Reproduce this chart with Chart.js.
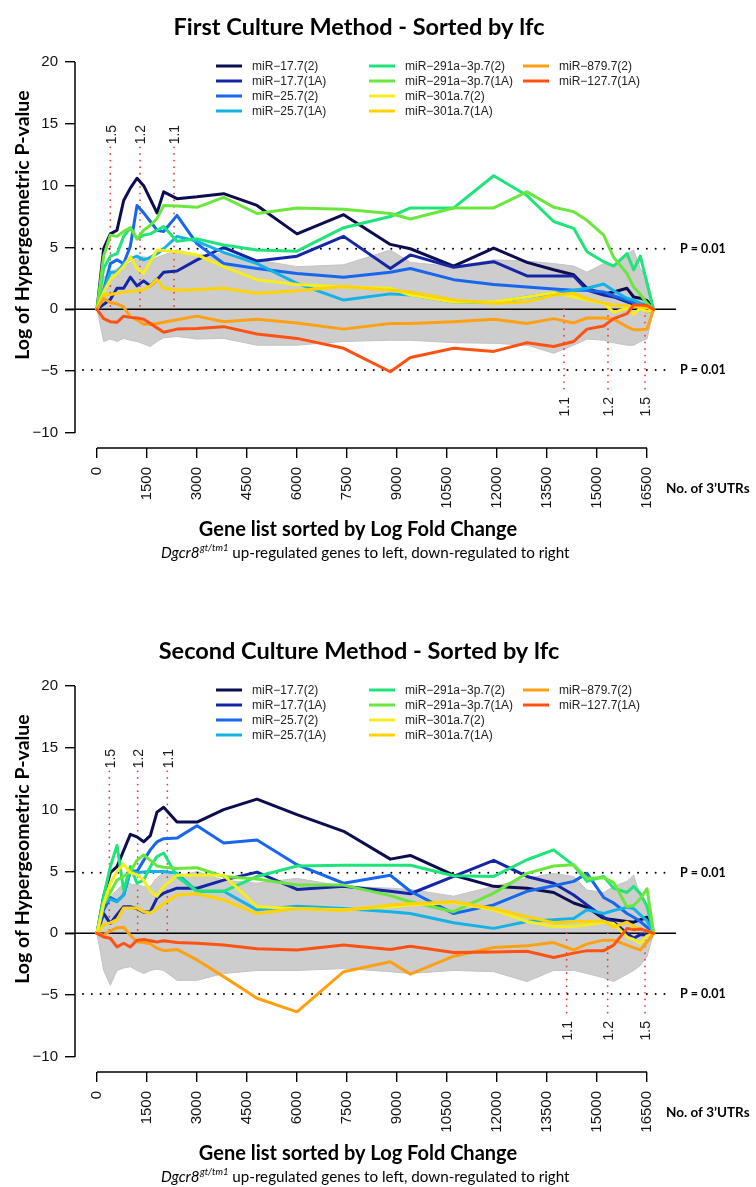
<!DOCTYPE html>
<html>
<head>
<meta charset="utf-8">
<script src="https://cdn.jsdelivr.net/npm/chart.js@4.4.1/dist/chart.umd.min.js"></script>
<style>
  html, body { margin: 0; padding: 0; background: #fff; overflow: hidden; }
  .panel { position: absolute; left: 0; width: 756px; height: 625px; }
</style>
</head>
<body>
<div class="panel" style="top:0"><canvas id="cult1" width="756" height="625"></canvas></div>
<div class="panel" style="top:624px"><canvas id="cult2" width="756" height="625"></canvas></div>
<script>
"use strict";

// number of 3'UTRs (gene list position) where the curves were read
var geneCounts = [0, 200, 400, 600, 800, 1000, 1200, 1400, 1600, 1800, 2000, 2400, 3000, 3800, 4800, 6000,
    7400, 8800, 9400, 10700, 11900, 12900, 13700, 14300, 14700, 15200, 15500, 15900, 16100, 16300, 16500, 16700];
var xTickValues = [0, 1500, 3000, 4500, 6000, 7500, 9000, 10500, 12000, 13500, 15000, 16500];
var yTickValues = [-10, -5, 0, 5, 10, 15, 20];

var mirNames = ["miR\u221217.7(2)", "miR\u221217.7(1A)", "miR\u221225.7(2)", "miR\u221225.7(1A)",
    "miR\u2212291a\u22123p.7(2)", "miR\u2212291a\u22123p.7(1A)", "miR\u2212301a.7(2)", "miR\u2212301a.7(1A)",
    "miR\u2212879.7(2)", "miR\u2212127.7(1A)"];
var mirColors = ["#0c0c50", "#1426a6", "#1666ee", "#14b2e6", "#1ee47a", "#6ae63c", "#f4ee1c", "#ffd200",
    "#ffa012", "#ff5212"];

var pCutoff = 4.9;
var foldLabelsUp = ["1.5", "1.2", "1.1"];
var foldLabelsDown = ["1.1", "1.2", "1.5"];

// first culture method
var c1Mir17_2 = [0, 4.9, 6.1, 6.4, 8.8, 9.8, 10.6, 10.0, 8.9, 7.8, 9.5, 8.95, 9.1, 9.35, 8.4, 6.1, 7.65, 5.25, 4.9, 3.5, 4.95, 3.8, 3.2, 2.8, 1.7, 1.25, 1.4, 1.7, 1.0, 0.9, 0.7, 0];
var c1Mir17_1A = [0, 0.4, 0.8, 1.7, 1.7, 2.6, 1.9, 2.3, 1.9, 2.4, 3.0, 3.1, 4.0, 5.0, 3.9, 4.3, 5.9, 3.3, 4.4, 3.4, 3.85, 2.7, 2.7, 2.7, 1.55, 1.15, 1.0, 0.6, 0.4, 0.2, -0.2, 0];
var c1Mir25_2 = [0, 1.5, 3.7, 4.0, 3.7, 5.1, 8.4, 7.8, 7.1, 6.4, 6.3, 7.6, 5.3, 3.7, 3.3, 2.9, 2.6, 3.0, 3.3, 2.4, 2.0, 1.8, 1.65, 1.55, 1.55, 1.4, 1.1, 0.75, 0.55, 0.4, 0.2, 0];
var c1Mir25_1A = [0, 1.5, 3.0, 3.0, 3.7, 4.1, 4.3, 4.0, 4.2, 4.5, 4.9, 5.9, 5.5, 4.6, 3.7, 2.1, 0.75, 1.25, 1.15, 0.6, 0.55, 1.0, 1.3, 1.55, 1.7, 2.05, 1.5, 0.9, 0.75, 0.5, 0.35, 0];
var c1Mir291_2 = [0, 3.3, 4.3, 4.5, 5.9, 6.6, 5.7, 6.0, 6.1, 6.4, 6.7, 5.5, 5.7, 5.2, 4.8, 4.7, 6.6, 7.5, 8.2, 8.2, 10.8, 9.2, 7.1, 6.55, 4.65, 3.85, 3.5, 4.5, 3.2, 4.3, 2.1, 0];
var c1Mir291_1A = [0, 4.3, 6.0, 5.9, 6.3, 6.6, 5.7, 6.4, 6.8, 7.35, 8.4, 8.35, 8.25, 9.05, 7.75, 8.2, 8.1, 7.75, 7.3, 8.2, 8.2, 9.5, 8.25, 7.9, 7.2, 6.0, 4.2, 2.9, 1.8, 1.2, 0.5, 0];
var c1Mir301_2 = [0, 1.4, 2.4, 2.9, 3.45, 4.25, 3.3, 2.9, 3.85, 4.8, 4.75, 4.65, 4.4, 3.45, 2.4, 2.0, 1.8, 1.7, 1.15, 0.6, 0.6, 1.0, 1.35, 1.0, 0.75, 0.5, -0.25, 0.1, -0.4, 0.1, -0.2, 0];
var c1Mir301_1A = [0, 1.15, 1.2, 1.3, 1.4, 1.45, 1.5, 1.6, 1.9, 2.4, 1.7, 1.55, 1.6, 1.7, 1.3, 1.5, 1.85, 1.55, 1.4, 0.75, 0.5, 0.6, 1.15, 1.3, 0.85, 0.5, 0.35, 0.3, 0.2, 0.25, 0.1, 0];
var c1Mir879 = [0, 0.9, 0.55, 0.45, 0.2, -0.6, -0.85, -1.2, -1.2, -1.15, -1.05, -0.85, -0.55, -1.0, -0.8, -1.1, -1.6, -1.15, -1.15, -1.0, -0.8, -1.15, -0.75, -1.1, -0.7, -0.7, -0.8, -1.4, -1.65, -1.65, -1.6, 0];
var c1Mir127 = [0, -0.75, -1.0, -1.05, -0.55, -0.65, -0.7, -0.8, -1.15, -1.5, -1.85, -1.6, -1.55, -1.4, -2.0, -2.35, -3.15, -5.05, -3.9, -3.15, -3.4, -2.7, -3.0, -2.6, -1.6, -1.35, -0.75, -0.35, 0.35, 0.35, 0.3, 0];
// envelope of all other miRNAs (grey)
var c1OtherTop = [0, 2.6, 3.0, 3.3, 3.5, 3.8, 4.1, 4.3, 4.0, 4.2, 4.4, 4.8, 4.4, 4.5, 4.0, 3.45, 3.6, 4.8, 3.8, 3.45, 4.0, 3.9, 3.7, 3.5, 3.0, 3.7, 3.4, 4.5, 4.8, 3.3, 2.5, 0];
var c1OtherBottom = [0, -2.6, -2.4, -2.6, -2.35, -2.5, -2.6, -2.8, -3.0, -2.6, -2.3, -2.2, -2.4, -2.35, -2.9, -2.9, -2.6, -2.5, -2.5, -2.7, -2.75, -2.9, -3.55, -2.9, -2.4, -2.5, -2.7, -2.9, -2.9, -2.6, -2.4, 0];
var c1UpCuts = [400, 1290, 2310];
var c1DownCuts = [14010, 15330, 16440];

// second culture method
var c2Mir17_2 = [0, 3.0, 4.9, 5.4, 6.7, 8.0, 7.8, 7.4, 7.9, 9.8, 10.2, 9.0, 9.0, 10.0, 10.85, 9.6, 8.25, 6.0, 6.3, 4.7, 3.8, 3.65, 3.3, 2.45, 2.1, 1.2, 1.1, 0.95, 0.9, 1.1, 1.3, 0];
var c2Mir17_1A = [0, 1.6, 0.8, 1.5, 2.15, 2.15, 2.0, 1.7, 1.75, 2.85, 3.25, 3.65, 3.65, 4.3, 4.95, 3.55, 3.8, 3.4, 3.2, 4.6, 5.9, 4.6, 4.05, 3.1, 2.3, 1.3, 0.9, 0.0, -0.4, -0.1, -0.15, 0];
var c2Mir25_2 = [0, 1.9, 2.9, 2.6, 3.1, 5.1, 5.0, 5.9, 6.75, 7.4, 7.65, 7.7, 8.7, 7.3, 7.55, 5.55, 4.05, 4.7, 3.4, 1.6, 2.3, 3.4, 3.85, 4.2, 4.85, 2.9, 2.45, 1.6, 1.3, 0.95, 0.5, 0];
var c2Mir25_1A = [0, 2.4, 2.75, 2.55, 3.1, 5.0, 4.9, 4.95, 5.0, 5.0, 5.0, 4.85, 3.4, 3.4, 1.9, 2.2, 2.0, 1.75, 1.6, 0.85, 0.4, 0.95, 1.1, 1.2, 1.9, 1.6, 1.85, 2.1, 2.0, 1.5, 1.0, 0];
var c2Mir291_2 = [0, 3.0, 5.4, 7.1, 3.5, 5.4, 4.05, 4.3, 5.4, 6.2, 6.5, 4.6, 3.4, 3.4, 4.6, 5.45, 5.5, 5.5, 5.5, 4.65, 4.6, 5.95, 6.75, 5.5, 4.2, 4.6, 3.65, 3.3, 3.8, 3.2, 2.2, 0];
var c2Mir291_1A = [0, 2.4, 3.3, 4.3, 4.6, 5.0, 5.9, 6.35, 5.9, 5.45, 5.35, 5.25, 5.3, 4.6, 4.4, 3.9, 3.9, 3.05, 2.55, 1.75, 3.25, 4.85, 5.45, 5.55, 4.45, 4.5, 4.1, 2.15, 2.25, 2.8, 3.6, 0];
var c2Mir301_2 = [0, 2.4, 4.05, 5.0, 5.6, 4.9, 4.75, 4.3, 3.4, 3.0, 3.8, 4.7, 4.7, 4.7, 2.15, 2.0, 1.9, 2.15, 2.3, 2.5, 1.9, 0.95, 0.55, 0.55, 0.7, 0.9, 0.8, -0.3, -0.5, -0.8, -0.2, 0];
var c2Mir301_1A = [0, 0.7, 0.85, 1.1, 2.05, 2.05, 2.05, 1.75, 1.65, 2.0, 2.4, 3.1, 3.2, 2.7, 1.6, 2.0, 1.85, 2.3, 2.4, 2.55, 2.0, 1.35, 0.85, 0.95, 0.95, 1.0, 0.5, 0.9, 0.55, 0.3, 0.2, 0];
var c2Mir879 = [0, -0.15, 0.2, 0.45, 0.5, -0.15, -0.7, -0.75, -0.85, -1.2, -1.4, -1.3, -2.15, -3.5, -5.25, -6.35, -3.1, -2.3, -3.3, -1.85, -1.15, -1.0, -0.75, -1.35, -0.85, -0.55, -0.55, -0.95, -1.15, -1.35, -0.7, 0];
var c2Mir127 = [0, -0.3, -0.4, -1.1, -0.8, -1.1, -0.55, -0.5, -0.6, -0.7, -0.6, -0.75, -0.8, -0.95, -1.25, -1.35, -0.95, -1.3, -1.05, -1.55, -1.5, -1.45, -1.95, -1.6, -1.4, -1.4, -0.95, 0.4, 0.3, 0.35, 0.2, 0];
var c2OtherTop = [0, 2.7, 3.0, 3.5, 4.05, 4.0, 3.9, 3.8, 3.8, 4.5, 4.9, 4.6, 5.0, 4.3, 4.05, 4.45, 3.8, 3.65, 3.55, 3.0, 3.8, 4.45, 4.85, 4.6, 3.5, 3.3, 3.8, 4.2, 4.7, 3.0, 2.0, 0];
var c2OtherBottom = [0, -3.0, -4.2, -3.0, -2.8, -2.7, -3.0, -3.25, -3.0, -2.9, -3.0, -3.8, -3.8, -3.25, -3.0, -3.0, -2.85, -3.1, -3.25, -3.0, -3.1, -3.9, -3.0, -3.0, -3.25, -3.6, -3.9, -3.3, -3.0, -2.6, -1.9, 0];
var c2UpCuts = [370, 1220, 2110];
var c2DownCuts = [14090, 15320, 16440];

var SANS = "'Liberation Sans', Arial, sans-serif";
var HUMANIST = "Lato, 'Open Sans', sans-serif";

function toPoints(values)
{
    return geneCounts.map(function (g, i) { return {x: g, y: values[i]}; });
}

function buildDatasets(spec)
{
    var sets = [
        {data: toPoints(spec.otherTop), fill: "+1", backgroundColor: "#cdcdcd", borderColor: "#c3c3c3",
            borderWidth: 1, pointRadius: 0, tension: 0, order: 101, isBand: true},
        {data: toPoints(spec.otherBottom), fill: false, borderColor: "#c3c3c3",
            borderWidth: 1, pointRadius: 0, tension: 0, order: 100, isBand: true}
    ];
    spec.series.forEach(function (vals, i)
    {
        sets.push({
            label:           mirNames[i],
            data:            toPoints(vals),
            borderColor:     mirColors[i],
            borderWidth:     3,
            pointRadius:     0,
            tension:         0,
            fill:            false,
            borderJoinStyle: "round",
            borderCapStyle:  "round",
            order:           10 - i
        });
    });
    return sets;
}

function makeDecor(spec)
{
    return {
        id: "panelDecor",
        // reference lines go over the grey cloud but under the coloured curves
        afterDatasetDraw: function (chart, args)
        {
            if (args.index !== 1) return;
            var ctx  = chart.ctx;
            var sx   = chart.scales.x;
            var sy   = chart.scales.y;
            var area = chart.chartArea;
            var y0   = sy.getPixelForValue(0);
            ctx.save();
            ctx.strokeStyle = "#000";
            ctx.lineWidth   = 1.5;
            ctx.beginPath();
            ctx.moveTo(area.left - 10, y0);
            ctx.lineTo(area.right, y0);
            ctx.stroke();

            ctx.lineCap = "round";
            ctx.setLineDash([0.01, 8.8]);
            ctx.lineWidth = 2;
            [pCutoff, -pCutoff].forEach(function (v)
            {
                var py = sy.getPixelForValue(v);
                ctx.beginPath();
                ctx.moveTo(area.left + 8, py);
                ctx.lineTo(area.right - 5, py);
                ctx.stroke();
            });

            ctx.strokeStyle = "#f03a3a";
            ctx.setLineDash([0.01, 6.6]);
            ctx.lineWidth = 1.8;
            spec.upCuts.forEach(function (g)
            {
                var px = sx.getPixelForValue(g);
                ctx.beginPath();
                ctx.moveTo(px, sy.getPixelForValue(13.1));
                ctx.lineTo(px, y0);
                ctx.stroke();
            });
            spec.downCuts.forEach(function (g)
            {
                var px = sx.getPixelForValue(g);
                ctx.beginPath();
                ctx.moveTo(px, y0);
                ctx.lineTo(px, sy.getPixelForValue(-6.6));
                ctx.stroke();
            });
            ctx.restore();
        },
        afterDraw: function (chart)
        {
            var ctx  = chart.ctx;
            var sx   = chart.scales.x;
            var sy   = chart.scales.y;
            var area = chart.chartArea;
            ctx.save();

            // R style detached axis lines
            ctx.strokeStyle = "#000";
            ctx.lineWidth   = 1.5;
            ctx.beginPath();
            ctx.moveTo(area.left, sy.getPixelForValue(yTickValues[0]));
            ctx.lineTo(area.left, sy.getPixelForValue(yTickValues[yTickValues.length - 1]));
            ctx.moveTo(sx.getPixelForValue(xTickValues[0]), area.bottom);
            ctx.lineTo(sx.getPixelForValue(xTickValues[xTickValues.length - 1]), area.bottom);
            ctx.stroke();

            // fold change cut-off labels
            ctx.fillStyle    = "#1a1a1a";
            ctx.font         = "14px " + SANS;
            ctx.textBaseline = "middle";
            spec.upCuts.forEach(function (g, i)
            {
                ctx.save();
                ctx.translate(sx.getPixelForValue(g) + 1.5, sy.getPixelForValue(13.1) - 3);
                ctx.rotate(-Math.PI / 2);
                ctx.textAlign = "left";
                ctx.fillText(foldLabelsUp[i], 0, 0);
                ctx.restore();
            });
            spec.downCuts.forEach(function (g, i)
            {
                ctx.save();
                ctx.translate(sx.getPixelForValue(g) + 1.5, sy.getPixelForValue(-6.6) + 6);
                ctx.rotate(-Math.PI / 2);
                ctx.textAlign = "right";
                ctx.fillText(foldLabelsDown[i], 0, 0);
                ctx.restore();
            });

            // legend, three columns filled top to bottom
            var cols = [216, 369, 523];
            var rows = [66, 81, 96, 111];
            var k    = 0;
            ctx.font      = "12px " + SANS;
            ctx.textAlign = "left";
            chart.data.datasets.forEach(function (ds)
            {
                if (ds.isBand) return;
                var lx = cols[Math.floor(k / 4)];
                var ly = rows[k % 4];
                ctx.strokeStyle = ds.borderColor;
                ctx.lineWidth   = 3;
                ctx.beginPath();
                ctx.moveTo(lx, ly);
                ctx.lineTo(lx + 26, ly);
                ctx.stroke();
                ctx.fillStyle = "#222";
                ctx.fillText(ds.label, lx + 36, ly + 0.5);
                k++;
            });

            ctx.fillStyle = "#000";
            ctx.font      = "bold 23.5px " + HUMANIST;
            ctx.textAlign = "center";
            ctx.textBaseline = "alphabetic";
            ctx.fillText(spec.title, 359, 35);

            ctx.textBaseline = "middle";
            ctx.font = "bold 20px " + HUMANIST;
            ctx.fillText("Gene list sorted by Log Fold Change", 358, 530);

            ctx.textAlign = "left";
            ctx.font = "bold 13.5px " + HUMANIST;
            ctx.fillText("No. of 3\u2019UTRs", 666, 489);

            ctx.font = "bold 12.5px " + HUMANIST;
            [pCutoff, -pCutoff].forEach(function (v)
            {
                ctx.fillText("P = 0.01", 680, sy.getPixelForValue(v));
            });

            // subtitle with italic gene name and superscript allele
            var part1 = "Dgcr8", part2 = "gt/tm1", part3 = " up-regulated genes to left, down-regulated to right";
            ctx.font = "italic 15.2px " + HUMANIST;
            var w1 = ctx.measureText(part1).width;
            ctx.font = "italic 9.5px " + HUMANIST;
            var w2 = ctx.measureText(part2).width;
            ctx.font = "15.2px " + HUMANIST;
            var w3 = ctx.measureText(part3).width;
            var sxPos = 365 - (w1 + w2 + w3) / 2;
            ctx.textBaseline = "alphabetic";
            ctx.font = "italic 15.2px " + HUMANIST;
            ctx.fillText(part1, sxPos, 558);
            ctx.font = "italic 9.5px " + HUMANIST;
            ctx.fillText(part2, sxPos + w1 + 0.5, 551);
            ctx.font = "15.2px " + HUMANIST;
            ctx.fillText(part3, sxPos + w1 + w2 + 0.5, 558);

            // y axis title
            ctx.save();
            ctx.translate(23, 225);
            ctx.rotate(-Math.PI / 2);
            ctx.textAlign    = "center";
            ctx.textBaseline = "middle";
            ctx.font         = "bold 19.5px " + HUMANIST;
            ctx.fillText("Log of Hypergeometric P-value", 0, 0);
            ctx.restore();

            ctx.restore();
        }
    };
}

function drawPanel(canvasId, spec)
{
    return new Chart(document.getElementById(canvasId), {
        type:    "line",
        data:    {datasets: buildDatasets(spec)},
        options: {
            responsive:       false,
            animation:        false,
            devicePixelRatio: 1,
            events:           [],
            layout:           {padding: {left: 0, top: 47, right: 80, bottom: 0}},
            plugins:          {
                legend:  {display: false},
                tooltip: {enabled: false},
                title:   {display: false}
            },
            scales:           {
                x: {
                    type:            "linear",
                    min:             -660,
                    max:             17370,
                    afterBuildTicks: function (scale)
                    {
                        scale.ticks = xTickValues.map(function (v) { return {value: v}; });
                    },
                    afterFit:        function (scale) { scale.height = 177; },
                    border:          {display: false},
                    grid:            {drawOnChartArea: false, drawTicks: true, tickLength: 10, color: "#000", lineWidth: 1.4},
                    ticks:           {
                        minRotation: 90,
                        maxRotation: 90,
                        autoSkip:    false,
                        padding:     9,
                        color:       "#111",
                        font:        {family: SANS, size: 15},
                        callback:    function (v) { return String(v); }
                    }
                },
                y: {
                    type:            "linear",
                    min:             -11.213,
                    max:             21.213,
                    afterBuildTicks: function (scale)
                    {
                        scale.ticks = yTickValues.map(function (v) { return {value: v}; });
                    },
                    afterFit:        function (scale) { scale.width = 75; },
                    border:          {display: false},
                    grid:            {drawOnChartArea: false, drawTicks: true, tickLength: 10, color: "#000", lineWidth: 1.4},
                    ticks:           {
                        padding:  7,
                        color:    "#111",
                        font:     {family: SANS, size: 15},
                        callback: function (v) { return v < 0 ? "\u2212" + Math.abs(v) : String(v); }
                    }
                }
            }
        },
        plugins: [makeDecor(spec)]
    });
}

window.addEventListener("DOMContentLoaded", function ()
{
    drawPanel("cult1", {
        title:       "First Culture Method - Sorted by lfc",
        series:      [c1Mir17_2, c1Mir17_1A, c1Mir25_2, c1Mir25_1A, c1Mir291_2, c1Mir291_1A, c1Mir301_2, c1Mir301_1A, c1Mir879, c1Mir127],
        otherTop:    c1OtherTop,
        otherBottom: c1OtherBottom,
        upCuts:      c1UpCuts,
        downCuts:    c1DownCuts
    });
    drawPanel("cult2", {
        title:       "Second Culture Method - Sorted by lfc",
        series:      [c2Mir17_2, c2Mir17_1A, c2Mir25_2, c2Mir25_1A, c2Mir291_2, c2Mir291_1A, c2Mir301_2, c2Mir301_1A, c2Mir879, c2Mir127],
        otherTop:    c2OtherTop,
        otherBottom: c2OtherBottom,
        upCuts:      c2UpCuts,
        downCuts:    c2DownCuts
    });
});
</script>
</body>
</html>
